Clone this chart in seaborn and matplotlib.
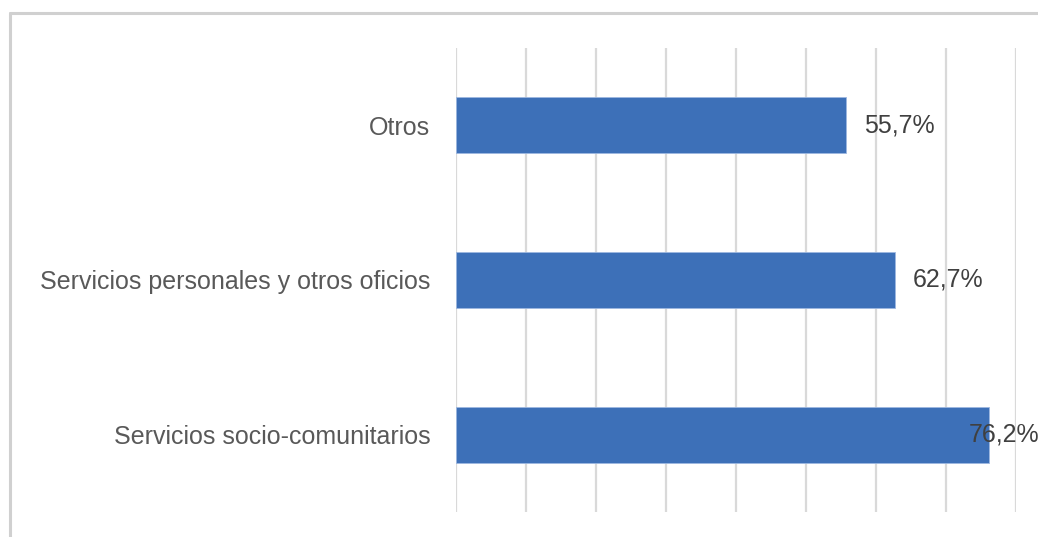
import matplotlib
matplotlib.use("Agg")
import matplotlib.pyplot as plt
import seaborn as sns
import pandas as pd
from matplotlib.lines import Line2D

categories = ["Otros", "Servicios personales y otros oficios", "Servicios socio-comunitarios"]
values = [55.7, 62.7, 76.2]
labels = ["55,7%", "62,7%", "76,2%"]

df = pd.DataFrame({"cat": categories, "val": values})

sns.set_theme(style="white")
plt.rcParams['font.family'] = ['Liberation Sans', 'DejaVu Sans']

FS = 18

fig = plt.figure(figsize=(10.38, 5.37), dpi=100)
ax = fig.add_axes([456/1038, 25/537, (1016-456)/1038, (512-48)/537])

sns.barplot(data=df, x="val", y="cat", orient="h", color="#3D70B8",
            width=0.36, ax=ax, saturation=1, edgecolor="#9DB8E0", linewidth=0.6)

ax.set_xlim(0, 80)
ax.set_ylim(2.5, -0.5)
ax.set_xticks(range(0, 81, 10))
ax.xaxis.grid(True, color="#D9D9D9", linewidth=1.6)
ax.set_axisbelow(True)
ax.set_xticklabels([])
ax.tick_params(axis="x", length=0)
ax.tick_params(axis="y", length=0, pad=18.5, labelsize=FS, labelcolor="#595959")
ax.set_xlabel("")
ax.set_ylabel("")
for s in ax.spines.values():
    s.set_visible(False)

for i, (v, lab) in enumerate(zip(values, labels)):
    if i < 2:
        ax.text(v + 2.6, i, lab, va="center", ha="left", fontsize=FS, color="#404040")
    else:
        # label pulled inside the bar end, as in the reference (clipped at edge)
        ax.text(v - 2.9, i, lab, va="center", ha="left", fontsize=FS, color="#404040",
                clip_on=False)

# outer chart frame (top and left visible; rest cropped)
fig.add_artist(Line2D([10/1038, 10/1038], [0, 1 - 13/537], transform=fig.transFigure,
                      color="#D0D0D0", linewidth=2.2))
fig.add_artist(Line2D([10/1038, 1], [1 - 13/537, 1 - 13/537], transform=fig.transFigure,
                      color="#D0D0D0", linewidth=2.2))

fig.savefig("out.png", dpi=100)
